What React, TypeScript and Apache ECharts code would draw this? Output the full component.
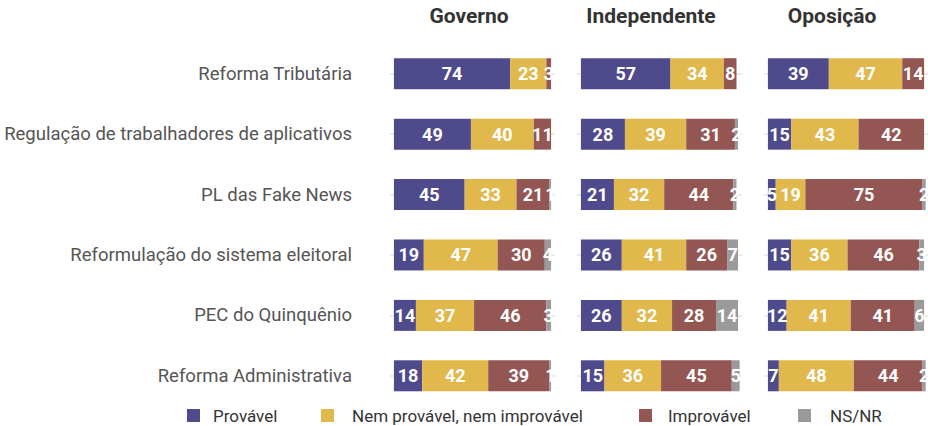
import React, { useEffect, useRef } from "react";
import * as echarts from "echarts";

const categories = [
  "Reforma Tributária",
  "Regulação de trabalhadores de aplicativos",
  "PL das Fake News",
  "Reformulação do sistema eleitoral",
  "PEC do Quinquênio",
  "Reforma Administrativa",
];

const groups = ["Governo", "Independente", "Oposição"];
const responses = ["Provável", "Nem provável, nem improvável", "Improvável", "NS/NR"];
const colors = ["#4F4A8B", "#E1B84C", "#935653", "#9A9A9A"];

const governoProvavel = [74, 49, 45, 19, 14, 18];
const governoNem = [23, 40, 33, 47, 37, 42];
const governoImprovavel = [3, 11, 21, 30, 46, 39];
const governoNSNR = [0, 0, 1, 4, 3, 1];

const independenteProvavel = [57, 28, 21, 26, 26, 15];
const independenteNem = [34, 39, 32, 41, 32, 36];
const independenteImprovavel = [8, 31, 44, 26, 28, 45];
const independenteNSNR = [0, 2, 2, 7, 14, 5];

const oposicaoProvavel = [39, 15, 5, 15, 12, 7];
const oposicaoNem = [47, 43, 19, 36, 41, 48];
const oposicaoImprovavel = [14, 42, 75, 46, 41, 44];
const oposicaoNSNR = [0, 0, 2, 3, 6, 2];

const groupData = [
  [governoProvavel, governoNem, governoImprovavel, governoNSNR],
  [independenteProvavel, independenteNem, independenteImprovavel, independenteNSNR],
  [oposicaoProvavel, oposicaoNem, oposicaoImprovavel, oposicaoNSNR],
];

const gridLefts = [390, 577, 764];
const titleCenters = [469, 651, 832];
const legendLefts = [187, 321, 639, 798];
const legendPads = [8, 13, 11, 14];

export default function App() {
  const ref = useRef<HTMLDivElement>(null);
  useEffect(() => {
    if (!ref.current) return;
    const chart = echarts.init(ref.current, null, { renderer: "svg" });
    const grids = gridLefts.map((left) => ({ left, width: 165, top: 43.5, height: 362.5 }));
    const xAxes = gridLefts.map((_, g) => ({
      type: "value",
      gridIndex: g,
      min: -2.5,
      max: 102.5,
      show: false,
    }));
    const yAxes = gridLefts.map((_, g) => ({
      type: "category",
      gridIndex: g,
      data: categories,
      inverse: true,
      axisLine: { show: false },
      axisTick: { show: false },
      splitLine: { show: false },
      axisLabel: {
        show: g === 0,
        fontSize: 18.5,
        color: "#555",
        margin: 38,
        fontFamily: "Roboto",
      },
    }));
    const series: any[] = [];
    groups.forEach((_, g) => {
      series.push({
        type: "line",
        xAxisIndex: g,
        yAxisIndex: g,
        data: categories.map(() => "-"),
        showSymbol: false,
        silent: true,
        z: 1,
        markLine: {
          silent: true,
          z: 1,
          symbol: ["none", "none"],
          label: { show: false },
          lineStyle: { color: "#e4e4e4", type: "solid", width: 1.5 },
          data: categories.map((c) => ({ yAxis: c })),
        },
      });
      responses.forEach((r, k) => {
        series.push({
          type: "bar",
          name: r,
          stack: "s" + g,
          xAxisIndex: g,
          yAxisIndex: g,
          barWidth: 31,
          z: 3,
          itemStyle: { color: colors[k] },
          label: {
            show: true,
            position: "inside",
            color: "#fff",
            fontSize: 18,
            fontWeight: "bold",
            fontFamily: "Roboto",
            formatter: (p: any) => (p.value ? String(p.value) : ""),
          },
          data: groupData[g][k],
        });
      });
    });
    chart.setOption({
      animation: false,
      textStyle: { fontFamily: "Roboto" },
      title: groups.map((t, g) => ({
        text: t,
        left: titleCenters[g],
        top: 5,
        textAlign: "center",
        padding: 0,
        textStyle: { fontSize: 21, fontWeight: "bold", color: "#333", fontFamily: "Roboto" },
      })),
      legend: responses.map((r, k) => ({
        data: [r],
        left: legendLefts[k],
        top: 407,
        padding: 0,
        icon: "rect",
        itemWidth: 13,
        itemHeight: 13,
        selectedMode: false,
        textStyle: {
          fontSize: 17,
          color: "#333",
          fontFamily: "Roboto",
          padding: [0, 0, 0, legendPads[k]],
        },
      })),
      grid: grids,
      xAxis: xAxes,
      yAxis: yAxes,
      series,
    });
    return () => chart.dispose();
  }, []);
  return (
    <div
      ref={ref}
      style={{ position: "fixed", left: 0, top: 0, width: 928, height: 426, background: "#fff" }}
    />
  );
}
